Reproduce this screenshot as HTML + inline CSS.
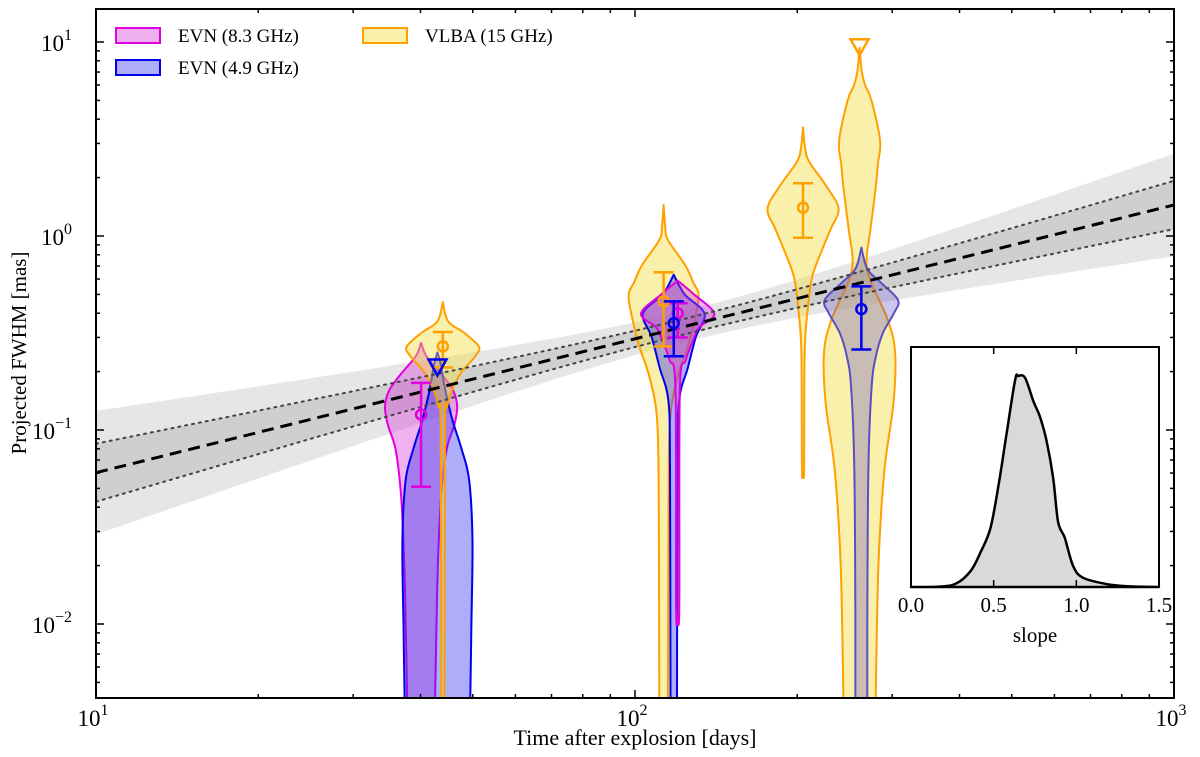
<!DOCTYPE html>
<html><head><meta charset="utf-8"><style>
html,body{margin:0;padding:0;background:#fff;width:1200px;height:757px;overflow:hidden}
svg{display:block;font-family:"Liberation Serif","DejaVu Serif",serif}
</style></head><body>
<svg id="chart" width="1200" height="757" viewBox="0 0 1200 757" xmlns="http://www.w3.org/2000/svg">
<defs><clipPath id="plotclip"><rect x="96" y="9" width="1078" height="689"/></clipPath></defs>
<g id="bands" clip-path="url(#plotclip)"></g>
<g id="violins" clip-path="url(#plotclip)"></g>
<g id="fitlines" clip-path="url(#plotclip)"></g>
<g id="markers" clip-path="url(#plotclip)"></g>
<g id="axes"></g>
<g id="inset"></g>
<g id="legend"></g>
<text x="635" y="745" text-anchor="middle" font-size="22">Time after explosion [days]</text>
<text transform="translate(26,353) rotate(-90)" text-anchor="middle" font-size="21">Projected FWHM [mas]</text>
</svg>
<script>
// ---- data ----
const xTickLabels = ["1","2","3"];
const yTickLabels = ["-2","-1","0","1"];
const fitSlope = 0.69;
const fitLogAt10 = -1.22;
const fitPivot = 2.1;
const dottedA = 0.04, dottedB = 0.131;
const lightA = 0.08, lightB = 0.28;
// violins: center day, profile [log10 FWHM, half-width in log10 days]
const v1Day = 40.1;
const v1Prof = [[-0.55,0],[-0.62,0.01],[-0.72,0.04],[-0.8,0.06],[-0.88,0.067],[-0.97,0.062],[-1.09,0.048],[-1.25,0.04],[-1.43,0.035],[-1.8,0.03],[-2.38,0.026],[-2.42,0.025]];
const v2Day = 43;
const v2Prof = [[-0.6,0],[-0.66,0.006],[-0.8,0.015],[-0.95,0.028],[-1.1,0.045],[-1.26,0.059],[-1.57,0.065],[-2.0,0.063],[-2.38,0.061],[-2.42,0.06]];
const v3Day = 44;
const v3Prof = [[-0.34,0],[-0.44,0.01],[-0.5,0.04],[-0.57,0.067],[-0.62,0.06],[-0.7,0.035],[-0.78,0.019],[-0.88,0.008],[-1.0,0.004],[-2.42,0.003]];
const v4Day = 113;
const v4Prof = [[0.16,0],[0.05,0.003],[-0.02,0.008],[-0.15,0.04],[-0.24,0.055],[-0.31,0.065],[-0.45,0.056],[-0.57,0.045],[-0.73,0.026],[-0.95,0.012],[-1.4,0.009],[-2.42,0.008]];
const v5Day = 118;
const v5Prof = [[-0.2,0],[-0.3,0.02],[-0.4,0.057],[-0.52,0.041],[-0.68,0.026],[-0.85,0.01],[-1.2,0.007],[-2.42,0.006]];
const v6Day = 120;
const v6Prof = [[-0.23,0],[-0.3,0.03],[-0.4,0.068],[-0.47,0.04],[-0.52,0.031],[-0.64,0.015],[-0.8,0.004],[-1.91,0.003],[-1.95,0]];
const v7Day = 205;
const v7Prof = [[0.56,0],[0.45,0.004],[0.38,0.012],[0.25,0.045],[0.14,0.066],[0.04,0.052],[-0.06,0.037],[-0.21,0.017],[-0.37,0.009],[-0.6,0.003],[-1.2,0.002],[-1.21,0]];
const v8Day = 261;
const v8Prof = [[0.97,0],[0.85,0.004],[0.78,0.01],[0.7,0.022],[0.49,0.038],[0.37,0.034],[0.25,0.03],[0.03,0.02],[-0.12,0.013],[-0.23,0.02],[-0.43,0.052],[-0.6,0.066],[-0.86,0.063],[-1.21,0.046],[-1.7,0.035],[-2.38,0.03],[-2.42,0.03]];
const v9Day = 263;
const v9Prof = [[-0.06,0],[-0.17,0.011],[-0.24,0.036],[-0.33,0.068],[-0.4,0.06],[-0.5,0.04],[-0.62,0.027],[-0.78,0.019],[-1.2,0.013],[-2.0,0.011],[-2.42,0.011]];
// points [day, value, errLow, errHigh]
const ptsMagenta = [[40.1,0.12,0.051,0.175],[120,0.40,0.30,0.45]];
const ptsBlue = [[118,0.355,0.24,0.46],[263,0.42,0.26,0.55]];
const ptsOrange = [[44,0.27,0.21,0.32],[113,0.46,0.27,0.65],[205,1.4,0.98,1.87]];
const limBlue = [[43,0.21]];
const limOrange = [[261,9.4]];
// inset KDE of slope
const kdeX = [0.0,0.17,0.27,0.36,0.42,0.48,0.53,0.58,0.63,0.65,0.69,0.74,0.78,0.82,0.86,0.89,0.93,0.98,1.04,1.19,1.33,1.5];
const kdeY = [0,0.002,0.015,0.075,0.163,0.278,0.485,0.736,0.982,1.0,0.991,0.881,0.806,0.692,0.515,0.308,0.233,0.101,0.044,0.013,0.003,0];
const insetTicks = ["0.0","0.5","1.0","1.5"];

// ---- scales ----
const X0=96,X1=1174,Y0=9,Y1=698;
const xs = d => X0 + (Math.log10(d)-1)*(X1-X0)/2;
const xl = l => X0 + (l-1)*(X1-X0)/2;
const yl = l => 236 - l*194;
const ys = v => yl(Math.log10(v));
const NS="http://www.w3.org/2000/svg";
function mk(tag, parent, attrs){const e=document.createElementNS(NS,tag);for(const k in attrs)e.setAttribute(k,attrs[k]);parent.appendChild(e);return e;}
function smooth(p){let d='M'+p[0][0].toFixed(1)+','+p[0][1].toFixed(1);for(let i=0;i<p.length-1;i++){const a=p[Math.max(0,i-1)],b=p[i],c=p[i+1],e=p[Math.min(p.length-1,i+2)];const c1=[b[0]+(c[0]-a[0])/6,b[1]+(c[1]-a[1])/6],c2=[c[0]-(e[0]-b[0])/6,c[1]-(e[1]-b[1])/6];d+=`C${c1[0].toFixed(1)},${c1[1].toFixed(1)} ${c2[0].toFixed(1)},${c2[1].toFixed(1)} ${c[0].toFixed(1)},${c[1].toFixed(1)}`;}return d;}

// bands
const bands=document.getElementById('bands');
function bandPath(a,b){let up=[],lo=[];for(let l=1;l<=3.001;l+=0.05){const m=fitLogAt10+fitSlope*(l-1);const w=Math.sqrt(a*a+(b*(l-fitPivot))**2);up.push(xl(l).toFixed(1)+','+yl(m+w).toFixed(1));lo.unshift(xl(l).toFixed(1)+','+yl(m-w).toFixed(1));}return 'M'+up.join('L')+'L'+lo.join('L')+'Z';}
const bl=mk('path',bands,{d:bandPath(lightA,lightB),fill:'#e6e6e6'});


const bd=mk('path',bands,{d:bandPath(dottedA,dottedB),fill:'#cfcfcf'});



// violins
const vg=document.getElementById('violins');
function violin(day,prof,stroke,fill,name){const lc=Math.log10(day);const r=prof.map(p=>[xl(lc+p[1]),yl(p[0])]);const l=prof.map(p=>[xl(lc-p[1]),yl(p[0])]).reverse();const dr=smooth(r);const dl=smooth(l).replace(/^M/,'L');const e=mk('path',vg,{d:dr+dl+'Z',fill:fill,stroke:stroke,'stroke-width':2,'stroke-linejoin':'round'});}
const ORF='rgba(242,222,70,0.45)', MGF='rgba(215,60,215,0.4)', BLF='rgba(40,40,240,0.38)';
violin(v1Day,v1Prof,'#e000e0',MGF,'violin-evn83-40d');
violin(v2Day,v2Prof,'#0000ee',BLF,'violin-evn49-43d');
violin(v3Day,v3Prof,'#ffa000',ORF,'violin-vlba-44d');
violin(v4Day,v4Prof,'#ffa000',ORF,'violin-vlba-113d');
violin(v5Day,v5Prof,'#0000ee',BLF,'violin-evn49-118d');
violin(v6Day,v6Prof,'#e000e0',MGF,'violin-evn83-120d');
violin(v7Day,v7Prof,'#ffa000',ORF,'violin-vlba-205d');
violin(v8Day,v8Prof,'#ffa000',ORF,'violin-vlba-261d');
violin(v9Day,v9Prof,'#5a4fc0','rgba(90,70,200,0.3)','violin-evn49-263d');

// fit lines
const fl=document.getElementById('fitlines');
function bandLine(a,b,sign,name){let pts=[];for(let l=1;l<=3.001;l+=0.05){const m=fitLogAt10+fitSlope*(l-1);const w=Math.sqrt(a*a+(b*(l-fitPivot))**2);pts.push(xl(l).toFixed(1)+','+yl(m+sign*w).toFixed(1));}const e=mk('polyline',fl,{points:pts.join(' '),fill:'none',stroke:'#444','stroke-width':2,'stroke-dasharray':'2 5','stroke-linecap':'round'});}
bandLine(dottedA,dottedB,1,'fit-upper-dotted');
bandLine(dottedA,dottedB,-1,'fit-lower-dotted');
const fitE=mk('line',fl,{x1:xl(1),y1:yl(fitLogAt10),x2:xl(3),y2:yl(fitLogAt10+2*fitSlope),stroke:'#000','stroke-width':3,'stroke-dasharray':'12 7'});



// markers
const mg=document.getElementById('markers');
function pts(arr,col,name){arr.forEach(p=>{const g=mk('g',mg,{stroke:col,'stroke-width':2.5,fill:'none'});const x=xs(p[0]);mk('line',g,{x1:x,x2:x,y1:ys(p[2]),y2:ys(p[3])});mk('line',g,{x1:x-10,x2:x+10,y1:ys(p[2]),y2:ys(p[2])});mk('line',g,{x1:x-10,x2:x+10,y1:ys(p[3]),y2:ys(p[3])});mk('circle',g,{cx:x,cy:ys(p[1]),r:5});});}
pts(ptsMagenta,'#e000e0','evn83-point');
pts(ptsOrange,'#ffa000','vlba-point');
pts(ptsBlue,'#0000ee','evn49-point');
function lims(arr,col,name){arr.forEach(p=>{const x=xs(p[0]),y=ys(p[1]);const e=mk('path',mg,{d:`M${x-9},${y-8}L${x+9},${y-8}L${x},${y+8}Z`,fill:'none',stroke:col,'stroke-width':2.5});});}
lims(limBlue,'#0000ee','evn49-upper-limit');
lims(limOrange,'#ffa000','vlba-upper-limit');

// axes
const ax=document.getElementById('axes');
mk('rect',ax,{x:X0,y:Y0,width:X1-X0,height:Y1-Y0,fill:'none',stroke:'#000','stroke-width':2});
for(let d=1;d<=3;d++){for(let m=1;m<10;m++){if(d===3&&m>1)break;const l=(d)+Math.log10(m);const x=xl(l);const len=m===1?8:4;mk('line',ax,{x1:x,x2:x,y1:Y1,y2:Y1-len,stroke:'#000','stroke-width':1.5});mk('line',ax,{x1:x,x2:x,y1:Y0,y2:Y0+len,stroke:'#000','stroke-width':1.5});}}
xTickLabels.forEach((t,i)=>{const x=xl(i+1);const e=mk('text',ax,{x:x-3,y:726,'text-anchor':'middle','font-size':23});e.textContent='10';const s=mk('tspan',e,{dy:-11,'font-size':16});s.textContent=t;});
for(let d=-3;d<=1;d++){for(let m=1;m<10;m++){const l=d+Math.log10(m);const y=yl(l);if(y<Y0||y>Y1)continue;const len=m===1?8:4;mk('line',ax,{x1:X0,x2:X0+len,y1:y,y2:y,stroke:'#000','stroke-width':1.5});mk('line',ax,{x1:X1,x2:X1-len,y1:y,y2:y,stroke:'#000','stroke-width':1.5});}}
yTickLabels.forEach((t,i)=>{const y=yl(i-2);const e=mk('text',ax,{x:72,y:y+9,'text-anchor':'end','font-size':23});e.textContent='10';const s=mk('tspan',e,{dy:-11,'font-size':16});s.textContent=t.replace('-','\u2212');});

// inset
const ig=document.getElementById('inset');
const IX0=911,IX1=1159,IY0=347,IY1=587;
const ix=v=>IX0+v*(IX1-IX0)/1.5, iy=d=>IY1-d*211;
mk('rect',ig,{x:IX0,y:IY0,width:IX1-IX0,height:IY1-IY0,fill:'#fff',stroke:'none'});
const kpts=kdeX.map((x,i)=>[ix(x),iy(kdeY[i])]);
const kf=mk('path',ig,{d:smooth(kpts)+'Z',fill:'#d9d9d9',stroke:'#000','stroke-width':2.5,'stroke-linejoin':'round'});


mk('rect',ig,{x:IX0,y:IY0,width:IX1-IX0,height:IY1-IY0,fill:'none',stroke:'#000','stroke-width':2});
insetTicks.forEach((t,i)=>{const v=parseFloat(t);const x=ix(v);mk('line',ig,{x1:x,x2:x,y1:IY1,y2:IY1-7,stroke:'#000','stroke-width':1.5});mk('line',ig,{x1:x,x2:x,y1:IY0,y2:IY0+7,stroke:'#000','stroke-width':1.5});const e=mk('text',ig,{x:x,y:612,'text-anchor':'middle','font-size':21});e.textContent=t;});
const st=mk('text',ig,{x:1035,y:642,'text-anchor':'middle','font-size':21});st.textContent='slope';



// legend
const lg=document.getElementById('legend');
function leg(x,y,stroke,fill,label,name){const g=mk('g',lg,{});mk('rect',g,{x:x,y:y,width:44,height:15,fill:fill,stroke:stroke,'stroke-width':2});const t=mk('text',g,{x:x+62,y:y+14,'font-size':19});t.textContent=label;}
leg(116,28,'#e000e0','rgba(220,80,220,0.45)','EVN (8.3 GHz)','legend-evn-83');
leg(116,60,'#0000ee','rgba(40,40,240,0.38)','EVN (4.9 GHz)','legend-evn-49');
leg(363,28,'#ffa000',ORF,'VLBA (15 GHz)','legend-vlba-15');
</script>
</body></html>
